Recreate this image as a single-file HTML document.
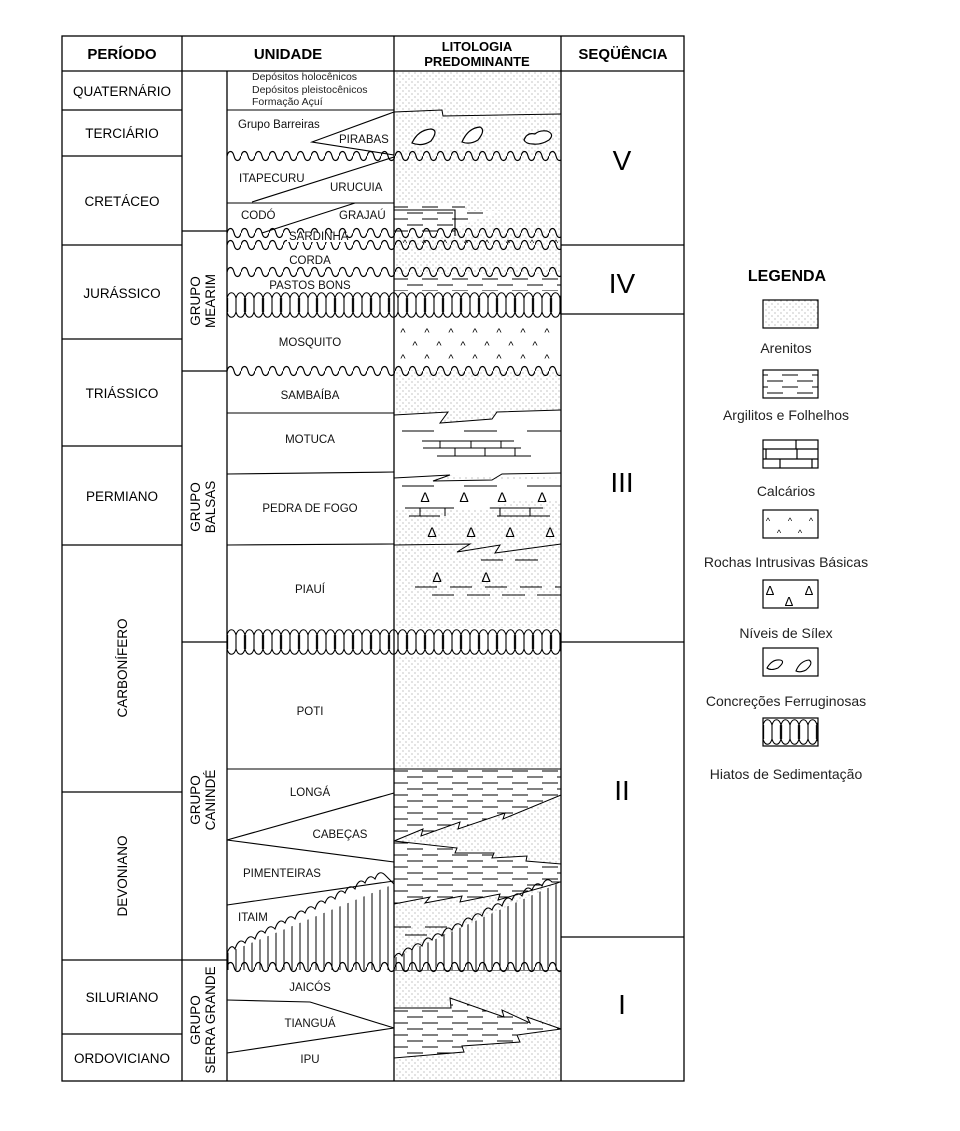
<!DOCTYPE html>
<html><head><meta charset="utf-8"><style>html,body{margin:0;padding:0;background:#fff}svg{display:block}</style></head>
<body>
<svg width="960" height="1131" viewBox="0 0 960 1131" xmlns="http://www.w3.org/2000/svg" font-family="Liberation Sans, Arial, sans-serif">
<defs>
<pattern id="dots" width="6" height="6" patternUnits="userSpaceOnUse">
<rect width="6" height="6" fill="#fff"/>
<circle cx="1" cy="1" r="0.55" fill="#777"/><circle cx="4" cy="4" r="0.55" fill="#777"/>
</pattern>
<pattern id="shale" width="30" height="12" patternUnits="userSpaceOnUse">
<rect width="30" height="12" fill="#fff"/>
<line x1="2" y1="3" x2="18" y2="3" stroke="#000" stroke-width="1"/>
<line x1="17" y1="9" x2="30" y2="9" stroke="#000" stroke-width="1"/>
<line x1="0" y1="9" x2="3" y2="9" stroke="#000" stroke-width="1"/>
</pattern>
<pattern id="wave2" x="0" y="-6" width="14" height="12" patternUnits="userSpaceOnUse">
<path d="M0,6 C1.5,0 5.5,0 7,6 C8.5,12 12.5,12 14,6" fill="none" stroke="#000" stroke-width="1.2"/>
</pattern>
<pattern id="hiat" x="0" y="0" width="18" height="28" patternUnits="userSpaceOnUse">
<path d="M0,7 C2,0 7,0 9,7 C11,0 16,0 18,7 M0,21 C2,28 7,28 9,21 C11,28 16,28 18,21 M0.6,7 L0.6,21 M9,7 L9,21 M17.4,7 L17.4,21" fill="none" stroke="#000" stroke-width="1.1"/>
</pattern>
<pattern id="vert" width="8" height="8" patternUnits="userSpaceOnUse">
<rect width="8" height="8" fill="#fff"/>
<line x1="4" y1="0" x2="4" y2="8" stroke="#000" stroke-width="1"/>
</pattern>
</defs>

<rect x="394" y="71" width="167" height="1010" fill="url(#dots)"/>

<polygon points="394,203 465,203 465,211 500,211 455,228 455,236 394,236" fill="url(#shale)"/>
<rect x="394" y="274" width="167" height="18" fill="url(#shale)"/>
<rect x="394" y="318" width="167" height="52" fill="#fff"/>
<g font-size="11" text-anchor="middle">
<text x="403" y="336">^</text><text x="427" y="336">^</text><text x="451" y="336">^</text><text x="475" y="336">^</text><text x="499" y="336">^</text><text x="523" y="336">^</text><text x="547" y="336">^</text>
<text x="415" y="349">^</text><text x="439" y="349">^</text><text x="463" y="349">^</text><text x="487" y="349">^</text><text x="511" y="349">^</text><text x="535" y="349">^</text>
<text x="403" y="362">^</text><text x="427" y="362">^</text><text x="451" y="362">^</text><text x="475" y="362">^</text><text x="499" y="362">^</text><text x="523" y="362">^</text><text x="547" y="362">^</text>
</g>
<polygon points="394,415 448,412 440,423 492,419 497,412 561,410 561,478 440,475 394,478" fill="#fff"/>
<polygon points="394,478 440,475 433,481 561,478 561,500 520,500 480,510 394,510" fill="#fff"/>
<polyline points="394,415 448,412 440,423 492,419 497,412 561,410" fill="none" stroke="#000" stroke-width="1"/>
<polyline points="394,478 450,475 433,481 492,480 502,474 561,473" fill="none" stroke="#000" stroke-width="1"/>
<g stroke="#000" stroke-width="1">
<line x1="402" y1="431" x2="434" y2="431"/><line x1="464" y1="431" x2="497" y2="431"/><line x1="527" y1="431" x2="561" y2="431"/>
<line x1="422" y1="441" x2="514" y2="441"/><line x1="423" y1="448" x2="521" y2="448"/><line x1="437" y1="456" x2="531" y2="456"/>
<line x1="440" y1="441" x2="440" y2="448"/><line x1="471" y1="441" x2="471" y2="448"/><line x1="501" y1="441" x2="501" y2="448"/>
<line x1="455" y1="448" x2="455" y2="456"/><line x1="485" y1="448" x2="485" y2="456"/><line x1="515" y1="448" x2="515" y2="456"/>
<line x1="402" y1="486" x2="434" y2="486"/><line x1="464" y1="486" x2="497" y2="486"/><line x1="527" y1="486" x2="561" y2="486"/>
<line x1="405" y1="508" x2="454" y2="508"/><line x1="409" y1="516" x2="440" y2="516"/><line x1="420" y1="508" x2="420" y2="516"/><line x1="445" y1="508" x2="445" y2="516"/>
<line x1="490" y1="508" x2="543" y2="508"/><line x1="497" y1="516" x2="550" y2="516"/><line x1="500" y1="508" x2="500" y2="516"/><line x1="530" y1="508" x2="530" y2="516"/>
</g>
<polyline points="394,545 470,544 457,552 500,545 495,553 561,544" fill="none" stroke="#000" stroke-width="1"/>
<g font-size="14" text-anchor="middle">
<text x="425" y="502">Δ</text><text x="464" y="502">Δ</text><text x="502" y="502">Δ</text><text x="542" y="502">Δ</text>
<text x="432" y="537">Δ</text><text x="471" y="537">Δ</text><text x="510" y="537">Δ</text><text x="550" y="537">Δ</text>
<text x="437" y="582">Δ</text><text x="486" y="582">Δ</text>
</g>
<g stroke="#000" stroke-width="1">
<line x1="481" y1="560" x2="503" y2="560"/><line x1="515" y1="560" x2="538" y2="560"/>
<line x1="415" y1="587" x2="437" y2="587"/><line x1="450" y1="587" x2="472" y2="587"/><line x1="485" y1="587" x2="507" y2="587"/><line x1="520" y1="587" x2="542" y2="587"/><line x1="555" y1="587" x2="561" y2="587"/>
<line x1="432" y1="595" x2="454" y2="595"/><line x1="467" y1="595" x2="490" y2="595"/><line x1="502" y1="595" x2="525" y2="595"/><line x1="537" y1="595" x2="561" y2="595"/>
</g>

<rect x="394" y="769" width="167" height="200" fill="url(#shale)"/>
<polygon points="394,841 423,829 421,836 460,822 458,829 505,813 503,819 561,795 561,864 526,861 527,856 492,858 494,853 455,853 457,848 394,841" fill="url(#dots)" stroke="#000" stroke-width="1"/>
<polygon points="394,904 430,897 425,903 462,896 460,902 500,894 498,900 561,882 561,970 394,970" fill="url(#dots)" stroke="#000" stroke-width="1"/>
<g stroke="#000" stroke-width="1"><line x1="394" y1="927" x2="411" y2="927"/><line x1="425" y1="927" x2="447" y2="927"/><line x1="461" y1="927" x2="483" y2="927"/><line x1="405" y1="935" x2="427" y2="935"/><line x1="441" y1="935" x2="463" y2="935"/></g>
<polygon points="227,953 394,884 394,970 227,970" fill="url(#vert)"/>
<polygon points="394,958 561,882 561,970 394,970" fill="url(#vert)"/>
<path d="M227,953 q4,-10 8,-4 q4,-12 10,-6 q4,-10 10,-4 q4,-12 10,-6 q4,-10 10,-4 q4,-12 10,-6 q4,-10 10,-4 q4,-12 10,-6 q4,-10 10,-4 q4,-12 10,-6 q4,-10 10,-4 q4,-12 10,-6 q4,-10 10,-4 q4,-12 10,-6 q4,-10 10,-4 q4,-10 10,-4 L394,884" fill="none" stroke="#000" stroke-width="1.1"/>
<path d="M394,958 q4,-8 8,-2 q4,-12 10,-6 q4,-10 10,-4 q4,-12 10,-6 q4,-10 10,-4 q4,-12 10,-6 q4,-10 10,-4 q4,-12 10,-6 q4,-10 10,-4 q4,-12 10,-6 q4,-10 10,-4 q4,-12 10,-6 q4,-10 10,-4 q4,-12 10,-6 q4,-10 10,-4 q4,-10 10,-4 L561,882" fill="none" stroke="#000" stroke-width="1.1"/>

<polygon points="394,1008 451,1008 450,998 504,1017 502,1010 530,1023 527,1017 561,1029 517,1035 520,1042 462,1046 464,1052 394,1058" fill="url(#shale)" stroke="#000" stroke-width="1"/>

<polyline points="394,112 442,110 443,116 561,114" fill="none" stroke="#000" stroke-width="1"/>
<g fill="#fff" stroke="#000" stroke-width="1.2">
<path d="M412,143 q6,-13 19,-14 q8,1 0,12 q-9,6 -19,2z"/>
<path d="M462,142 q6,-14 18,-15 q6,3 -2,13 q-8,5 -16,2z"/>
<path d="M524,140 q3,-8 11,-6 q4,-4 12,-3 q8,3 2,9 q-8,5 -16,4 q-7,0 -9,-4z"/>
</g>

<g>
<g transform="translate(227,156)"><rect x="0" y="-6" width="334" height="12" fill="url(#wave2)"/></g>
<g transform="translate(227,233)"><rect x="0" y="-6" width="334" height="12" fill="url(#wave2)"/></g>
<g transform="translate(227,245)"><rect x="0" y="-6" width="334" height="12" fill="url(#wave2)"/></g>
<g transform="translate(227,272)"><rect x="0" y="-6" width="334" height="12" fill="url(#wave2)"/></g>
<g transform="translate(227,371)"><rect x="0" y="-6" width="334" height="12" fill="url(#wave2)"/></g>
<g transform="translate(227,967)"><rect x="0" y="-6" width="334" height="12" fill="url(#wave2)"/></g>
</g>
<g font-size="9" text-anchor="middle">
<text x="405" y="246">^</text><text x="424" y="246">^</text><text x="445" y="246">^</text><text x="466" y="246">^</text><text x="487" y="246">^</text><text x="508" y="246">^</text><text x="532" y="246">^</text><text x="556" y="246">^</text>
</g>
<g transform="translate(227,291)"><rect x="0" y="0" width="334" height="28" fill="#fff"/><rect x="0" y="0" width="334" height="28" fill="url(#hiat)"/></g>
<g transform="translate(227,628)"><rect x="0" y="0" width="334" height="28" fill="#fff"/><rect x="0" y="0" width="334" height="28" fill="url(#hiat)"/></g>

<g stroke="#000" stroke-width="1.1" fill="none">
<line x1="227" y1="110" x2="394" y2="110"/>
<polyline points="394,112 312,142 394,155"/>
<line x1="252" y1="202" x2="394" y2="157"/>
<line x1="227" y1="203" x2="394" y2="203"/>
<line x1="262" y1="233" x2="355" y2="203"/>
<polyline points="394,210 455,210 455,236"/>
<line x1="227" y1="413" x2="394" y2="413"/>
<line x1="227" y1="474" x2="394" y2="472"/>
<line x1="227" y1="545" x2="394" y2="544"/>
<line x1="227" y1="769" x2="561" y2="769"/>
<polyline points="394,793 227,840 394,862"/>
<line x1="227" y1="905" x2="394" y2="881"/>
<polyline points="227,1000 310,1002 394,1028"/>
<line x1="227" y1="1053" x2="394" y2="1028"/>
</g>

<g stroke="#000" stroke-width="1.3" fill="none">
<rect x="62" y="36" width="622" height="1045"/>
<line x1="62" y1="71" x2="684" y2="71"/>
<line x1="182" y1="36" x2="182" y2="1081"/>
<line x1="227" y1="71" x2="227" y2="1081"/>
<line x1="394" y1="36" x2="394" y2="1081"/>
<line x1="561" y1="36" x2="561" y2="1081"/>
<line x1="62" y1="110" x2="182" y2="110"/><line x1="62" y1="156" x2="182" y2="156"/><line x1="62" y1="245" x2="182" y2="245"/>
<line x1="62" y1="339" x2="182" y2="339"/><line x1="62" y1="446" x2="182" y2="446"/><line x1="62" y1="545" x2="182" y2="545"/>
<line x1="62" y1="792" x2="182" y2="792"/><line x1="62" y1="960" x2="182" y2="960"/><line x1="62" y1="1034" x2="182" y2="1034"/>
<line x1="182" y1="231" x2="227" y2="231"/><line x1="182" y1="371" x2="227" y2="371"/><line x1="182" y1="642" x2="227" y2="642"/><line x1="182" y1="960" x2="227" y2="960"/>
<line x1="561" y1="245" x2="684" y2="245"/><line x1="561" y1="314" x2="684" y2="314"/><line x1="561" y1="642" x2="684" y2="642"/><line x1="561" y1="937" x2="684" y2="937"/>
</g>

<g font-weight="bold" font-size="15" text-anchor="middle">
<text x="122" y="59">PERÍODO</text>
<text x="288" y="59">UNIDADE</text>
<text x="477" y="51" font-size="13">LITOLOGIA</text>
<text x="477" y="66" font-size="13">PREDOMINANTE</text>
<text x="623" y="59">SEQÜÊNCIA</text>
</g>
<g font-size="13.5" text-anchor="middle">
<text x="122" y="96">QUATERNÁRIO</text>
<text x="122" y="138">TERCIÁRIO</text>
<text x="122" y="206">CRETÁCEO</text>
<text x="122" y="298">JURÁSSICO</text>
<text x="122" y="398">TRIÁSSICO</text>
<text x="122" y="501">PERMIANO</text>
<text transform="translate(127,668) rotate(-90)">CARBONÍFERO</text>
<text transform="translate(127,876) rotate(-90)">DEVONIANO</text>
<text x="122" y="1002">SILURIANO</text>
<text x="122" y="1063">ORDOVICIANO</text>
</g>
<g font-size="13.5" text-anchor="middle">
<text transform="translate(200,301) rotate(-90)">GRUPO</text>
<text transform="translate(215,301) rotate(-90)">MEARIM</text>
<text transform="translate(200,507) rotate(-90)">GRUPO</text>
<text transform="translate(215,507) rotate(-90)">BALSAS</text>
<text transform="translate(200,800) rotate(-90)">GRUPO</text>
<text transform="translate(215,800) rotate(-90)">CANINDÉ</text>
<text transform="translate(200,1020) rotate(-90)">GRUPO</text>
<text transform="translate(215,1020) rotate(-90)">SERRA GRANDE</text>
</g>
<g font-size="10.5" fill="#222">
<text x="252" y="80">Depósitos holocênicos</text>
<text x="252" y="93">Depósitos pleistocênicos</text>
<text x="252" y="105">Formação Açuí</text>
</g>
<rect x="287" y="233" width="60" height="9" fill="#fff"/>
<g font-size="11.5" fill="#111">
<text x="238" y="128">Grupo Barreiras</text>
<text x="339" y="143">PIRABAS</text>
<text x="239" y="182">ITAPECURU</text>
<text x="330" y="191">URUCUIA</text>
<text x="241" y="219">CODÓ</text>
<text x="339" y="219">GRAJAÚ</text>
<text x="289" y="240">SARDINHA</text>
<text x="310" y="264" text-anchor="middle">CORDA</text>
<text x="310" y="289" text-anchor="middle">PASTOS BONS</text>
<text x="310" y="346" text-anchor="middle">MOSQUITO</text>
<text x="310" y="399" text-anchor="middle">SAMBAÍBA</text>
<text x="310" y="443" text-anchor="middle">MOTUCA</text>
<text x="310" y="512" text-anchor="middle">PEDRA DE FOGO</text>
<text x="310" y="593" text-anchor="middle">PIAUÍ</text>
<text x="310" y="715" text-anchor="middle">POTI</text>
<text x="310" y="796" text-anchor="middle">LONGÁ</text>
<text x="340" y="838" text-anchor="middle">CABEÇAS</text>
<text x="243" y="877">PIMENTEIRAS</text>
<text x="238" y="921">ITAIM</text>
<text x="310" y="991" text-anchor="middle">JAICÓS</text>
<text x="310" y="1027" text-anchor="middle">TIANGUÁ</text>
<text x="310" y="1063" text-anchor="middle">IPU</text>
</g>
<g font-size="28" text-anchor="middle">
<text x="622" y="170">V</text>
<text x="622" y="293">IV</text>
<text x="622" y="492">III</text>
<text x="622" y="800">II</text>
<text x="622" y="1014">I</text>
</g>

<text x="787" y="281" font-size="16" font-weight="bold" text-anchor="middle">LEGENDA</text>
<g stroke="#000" stroke-width="1.2">
<rect x="763" y="300" width="55" height="28" fill="url(#dots)"/>
<rect x="763" y="370" width="55" height="28" fill="url(#shale)"/>
<rect x="763" y="440" width="55" height="28" fill="#fff"/>
<line x1="763" y1="449" x2="818" y2="449"/><line x1="763" y1="459" x2="818" y2="459"/>
<line x1="766" y1="449" x2="766" y2="459"/><line x1="796" y1="440" x2="796" y2="449"/><line x1="780" y1="459" x2="780" y2="468"/><line x1="812" y1="459" x2="812" y2="468"/><line x1="797" y1="449" x2="797" y2="459"/>
<rect x="763" y="510" width="55" height="28" fill="#fff"/>
<rect x="763" y="580" width="55" height="28" fill="#fff"/>
<rect x="763" y="648" width="55" height="28" fill="#fff"/>
<rect x="763" y="718" width="55" height="28" fill="#fff"/>
</g>
<g font-size="9" text-anchor="middle"><text x="768" y="524">^</text><text x="790" y="524">^</text><text x="811" y="524">^</text><text x="779" y="536">^</text><text x="800" y="536">^</text></g>
<g font-size="13" text-anchor="middle"><text x="770" y="595">Δ</text><text x="809" y="595">Δ</text><text x="789" y="606">Δ</text></g>
<g fill="#fff" stroke="#000" stroke-width="1.1"><path d="M767,668 q5,-9 13,-8 q6,1 -2,8 q-7,3 -11,0z"/><path d="M796,671 q4,-10 13,-11 q5,3 -3,10 q-6,3 -10,1z"/></g>
<g transform="translate(763,718)"><rect x="0" y="0" width="55" height="28" fill="url(#hiat)"/></g>
<g font-size="14" text-anchor="middle" fill="#222">
<text x="786" y="353">Arenitos</text>
<text x="786" y="420">Argilitos e Folhelhos</text>
<text x="786" y="496">Calcários</text>
<text x="786" y="567">Rochas Intrusivas Básicas</text>
<text x="786" y="638">Níveis de Sílex</text>
<text x="786" y="706">Concreções Ferruginosas</text>
<text x="786" y="779">Hiatos de Sedimentação</text>
</g>
</svg>
</body></html>
